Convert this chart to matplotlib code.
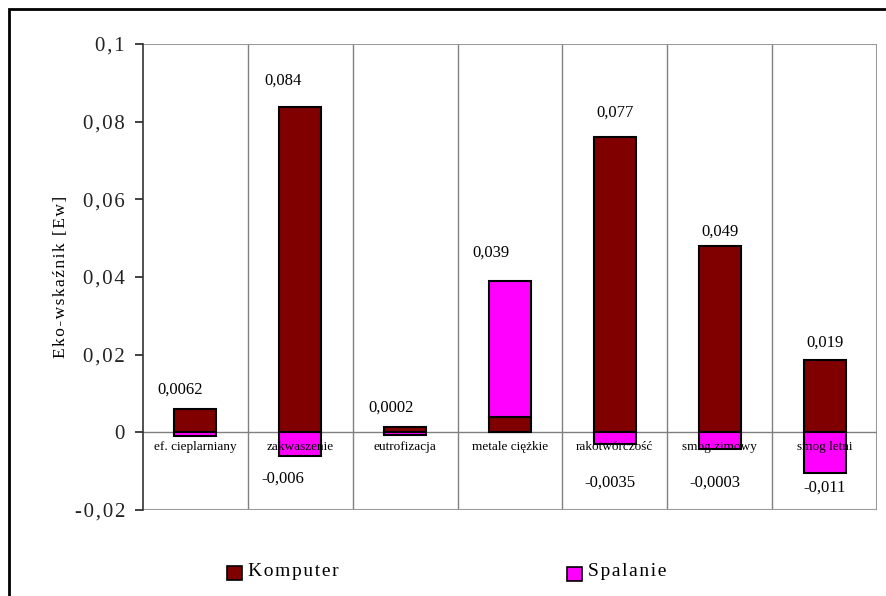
import matplotlib.pyplot as plt
import numpy as np
from matplotlib.patches import Rectangle

plt.rcParams['font.family'] = ['Liberation Serif', 'DejaVu Serif']

categories = ['ef. cieplarniany', 'zakwaszenie', 'eutrofizacja', 'metale ciężkie',
              'rakotwórczość', 'smog zimowy', 'smog letni']
komputer = [0.0060, 0.0838, 0.0014, 0.0040, 0.0760, 0.0480, 0.0185]
spalanie = [-0.0010, -0.0060, -0.0006, 0.0350, -0.0030, -0.0042, -0.0105]
top_labels = ['0,0062', '0,084', '0,0002', '0,039', '0,077', '0,049', '0,019']
bottom_labels = ['', '-0,006', '', '', '-0,0035', '-0,0003', '-0,011']
yticks = [-0.02, 0, 0.02, 0.04, 0.06, 0.08, 0.1]
ytick_labels = ['-0,02', '0', '0,02', '0,04', '0,06', '0,08', '0,1']

c_komp = '#800000'
c_spal = '#FF00FF'

HAIR = '\u200a'


def spaced(s, sep=HAIR):
    # mimic the loose letter spacing of the original rendering
    return sep.join(s)


fig = plt.figure(figsize=(8.87, 5.96), dpi=100)
ax = fig.add_axes([143 / 887, 1 - 510 / 596, (877 - 143) / 887, (510 - 44) / 596])

x = np.arange(len(categories))
komputer = np.array(komputer)
spalanie = np.array(spalanie)
# Spalanie stacks on top of Komputer when positive, below zero when negative
spal_bottom = np.where(spalanie > 0, komputer, 0)

ax.bar(x, komputer, width=0.4, color=c_komp, edgecolor='black', linewidth=1.5, zorder=3)
ax.bar(x, spalanie, width=0.4, bottom=spal_bottom, color=c_spal, edgecolor='black',
       linewidth=1.5, zorder=3)

ax.set_xlim(-0.5, len(categories) - 0.5)
ax.set_ylim(-0.02, 0.1)

# category separators and frame lines
for b in np.arange(0.5, len(categories) - 0.5, 1):
    ax.axvline(b, color='#808080', linewidth=1, zorder=1)
ax.axhline(0, color='#808080', linewidth=1, zorder=2)
ax.axhline(0.1, color='#999999', linewidth=1.5, zorder=1)
ax.axhline(-0.02, color='#999999', linewidth=1.5, zorder=1)
ax.axvline(len(categories) - 0.5, color='#999999', linewidth=1.5, zorder=1)

for s in ['top', 'right', 'bottom']:
    ax.spines[s].set_visible(False)
ax.spines['left'].set_color('#333333')
ax.spines['left'].set_linewidth(1.2)

ax.set_yticks(yticks)
ax.set_yticklabels([spaced(t) for t in ytick_labels], fontsize=15)
ax.tick_params(axis='y', direction='out', length=6, width=1.2, pad=7, colors='#222222')
ax.set_xticks([])
ax.set_ylabel(spaced('Eko-wskaźnik [Ew]'), fontsize=12.5, labelpad=4)

# category names just below zero line
for i, name in enumerate(categories):
    ax.text(i, -0.0022, name, ha='center', va='top', fontsize=9.5, zorder=4)

# value labels (Excel placed them unevenly)
top_dx = [-0.15, -0.16, -0.13, -0.18, 0, 0, 0]
top_dy = [0.0049, 0.0067, 0.0049, 0.0072, 0.0064, 0.0036, 0.0046]
for i, lab in enumerate(top_labels):
    top = komputer[i] + max(spalanie[i], 0)
    ax.text(i + top_dx[i], top + top_dy[i], lab, ha='center', va='center', fontsize=12, zorder=4)
bot_dx = [0, -0.17, 0, 0, -0.05, -0.05, 0]
bot_y = [0, -0.0119, 0, 0, -0.0130, -0.0130, -0.0142]
for i, lab in enumerate(bottom_labels):
    if lab:
        ax.text(i + bot_dx[i], bot_y[i], lab, ha='center', va='center', fontsize=12, zorder=4)

# legend
fig.patches.append(Rectangle((227 / 887, 1 - 580 / 596), 15 / 887, 14 / 596,
                             transform=fig.transFigure, facecolor=c_komp, edgecolor='black', lw=1.2))
fig.text(248 / 887, 1 - 571 / 596, spaced('Komputer'), fontsize=14, va='center')
fig.patches.append(Rectangle((567 / 887, 1 - 581 / 596), 15 / 887, 14 / 596,
                             transform=fig.transFigure, facecolor=c_spal, edgecolor='black', lw=1.2))
fig.text(588 / 887, 1 - 571 / 596, spaced('Spalanie'), fontsize=14, va='center')

# outer frame (only left and top visible in the crop)
fig.patches.append(Rectangle((9 / 887, -0.05), 1.2, 1 - 9 / 596 + 0.05,
                             transform=fig.transFigure, fill=False, edgecolor='black', lw=2))

fig.savefig('out.png', dpi=100)
